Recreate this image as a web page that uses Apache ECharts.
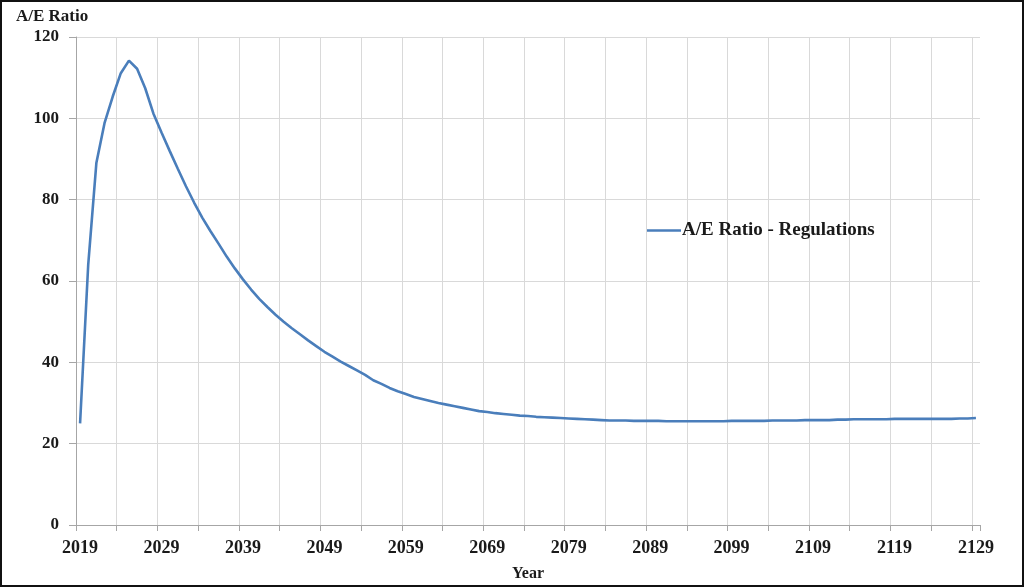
<!DOCTYPE html>
<html>
<head>
<meta charset="utf-8">
<script src="https://cdn.jsdelivr.net/npm/echarts@6/dist/echarts.min.js"></script>
<style>
html,body{margin:0;padding:0;background:#fff;}
#c{width:1025px;height:588px;}
</style>
</head>
<body>
<div id="c"></div>
<script>
const years = [];
for (let y = 2019; y <= 2129; y++) years.push(String(y));

const aeRatio = [
  25.0, 64.0, 89.0, 98.8, 105.3, 111.1, 114.2, 112.2, 107.4, 101.2,
  96.5, 92.0, 87.6, 83.3, 79.3, 75.6, 72.3, 69.2, 66.0, 63.1,
  60.4, 57.9, 55.6, 53.6, 51.7, 50.0, 48.4, 46.9, 45.4, 44.0,
  42.6, 41.4, 40.2, 39.1, 38.0, 36.9, 35.6, 34.7, 33.7, 32.9,
  32.2, 31.5, 31.0, 30.5, 30.0, 29.6, 29.2, 28.8, 28.4, 28.0,
  27.8, 27.5, 27.3, 27.1, 26.9, 26.8, 26.6, 26.5, 26.4, 26.3,
  26.2, 26.1, 26.0, 25.9, 25.8, 25.7, 25.7, 25.7, 25.6, 25.6,
  25.6, 25.6, 25.5, 25.5, 25.5, 25.5, 25.5, 25.5, 25.5, 25.5,
  25.6, 25.6, 25.6, 25.6, 25.6, 25.7, 25.7, 25.7, 25.7, 25.8,
  25.8, 25.8, 25.8, 25.9, 25.9, 26.0, 26.0, 26.0, 26.0, 26.0,
  26.1, 26.1, 26.1, 26.1, 26.1, 26.1, 26.1, 26.1, 26.2, 26.2,
  26.3
];

const seriesName = 'A/E Ratio - Regulations';
const yTitle = 'A/E Ratio';
const xTitle = 'Year';

const font = "'Liberation Serif', 'Times New Roman', serif";
const chart = echarts.init(document.getElementById('c'), null, {renderer: 'canvas'});
chart.setOption({
  backgroundColor: '#fff',
  animation: false,
  title: {
    text: yTitle, left: 11, top: 3,
    textStyle: {fontFamily: font, fontWeight: 'bold', fontSize: 17, color: '#1a1a1a'}
  },
  legend: {
    data: [seriesName], left: 642, top: 216,
    itemWidth: 34, itemHeight: 14, icon: 'path://M0,6 L34,6 L34,8.5 L0,8.5 Z',
    textStyle: {fontFamily: font, fontWeight: 'bold', fontSize: 19, color: '#1a1a1a', padding: [0,0,0,-4]}
  },
  graphic: [{
    type: 'rect', shape: {x: 1, y: 1, width: 1022, height: 585},
    style: {fill: 'none', stroke: '#111', lineWidth: 2}, silent: true
  }],
  grid: {left: 76, right: 45, top: 37, bottom: 63, containLabel: false},
  xAxis: {
    type: 'category', data: years, boundaryGap: true,
    name: xTitle, nameLocation: 'middle', nameGap: 41,
    nameTextStyle: {fontFamily: font, fontWeight: 'bold', fontSize: 16, color: '#1a1a1a'},
    axisLine: {show: true, lineStyle: {color: '#a6a6a6', width: 1}},
    axisTick: {show: true, interval: 4, length: 6, lineStyle: {color: '#a6a6a6'}},
    axisLabel: {interval: 9, margin: 14, fontFamily: font, fontWeight: 'bold', fontSize: 18, color: '#1a1a1a'},
    splitLine: {show: true, interval: 4, showMaxLine: false, lineStyle: {color: '#d9d9d9', width: 1}}
  },
  yAxis: {
    type: 'value', min: 0, max: 120, interval: 20,
    axisLine: {show: true, lineStyle: {color: '#a6a6a6', width: 1}},
    axisTick: {show: true, length: 7, lineStyle: {color: '#a6a6a6'}},
    axisLabel: {margin: 17, fontFamily: font, fontWeight: 'bold', fontSize: 17, color: '#1a1a1a'},
    splitLine: {show: true, lineStyle: {color: '#d9d9d9', width: 1}}
  },
  series: [{
    name: seriesName, type: 'line', data: aeRatio, symbol: 'none', smooth: false,
    lineStyle: {color: '#4a7ebb', width: 2.6}, itemStyle: {color: '#4a7ebb'}
  }]
});
</script>
</body>
</html>
